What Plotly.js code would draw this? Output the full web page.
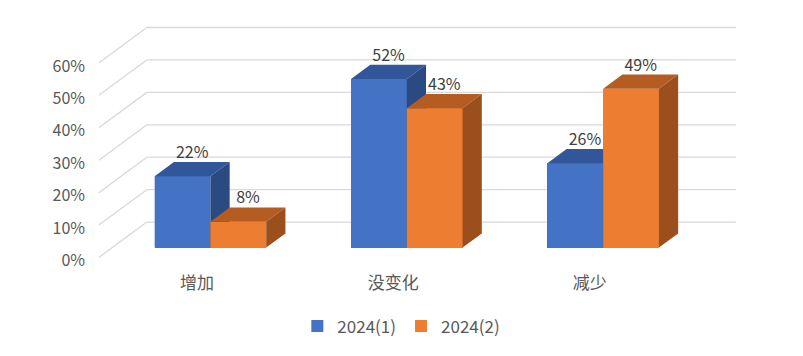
<!DOCTYPE html>
<html>
<head>
<meta charset="utf-8">
<script src="https://cdn.plot.ly/plotly-3.0.1.min.js"></script>
<style>html,body{margin:0;padding:0;background:#fff;}#chart{width:803px;height:356px;}</style>
</head>
<body>
<div id="chart"></div>
<script>
// ---- data ----
const categories = ['增加', '没变化', '减少'];
const seriesNames = ['2024(1)', '2024(2)'];
const series1 = [22, 52, 26];
const series2 = [8, 43, 49];
const yTicks = [0, 10, 20, 30, 40, 50, 60];
const yTickLabels = ['0%', '10%', '20%', '30%', '40%', '50%', '60%'];

// ---- styling / geometry (not data) ----
const FONT = '"Noto Sans CJK SC", "Noto Sans", sans-serif';
const DX = 48 / 196.2;     // depth shift along x (category units)
const DY = 35.5 / 3.25;    // depth shift along y (percent units)
const D0 = 0.28, D1 = 0.68; // bar front/back depth
const W = 0.284;            // bar width
const colors = [
  {front: '#4472C4', top: '#31569A', side: '#2B4A82'},
  {front: '#ED7D31', top: '#B45C22', side: '#9A4F1D'}
];
const offsets = [-W, 0];

function P(x, y, d) { return [x + d * DX, y + d * DY]; }

const traces = [];
const allSeries = [series1, series2];

// legend bars (front faces, repainted by polygons above)
allSeries.forEach((vals, s) => {
  traces.push({
    type: 'bar', name: seriesNames[s],
    x: categories.map((c, i) => i + D0 * DX),
    y: vals, base: vals.map(() => D0 * DY),
    width: W, offset: offsets[s],
    marker: {color: colors[s].front, line: {width: 0}},
    hoverinfo: 'skip', showlegend: true
  });
});

function faceTrace(pts, color) {
  return {type: 'scatter', mode: 'lines', x: pts.map(p => p ? p[0] : null), y: pts.map(p => p ? p[1] : null),
    fill: 'toself', fillcolor: color, line: {width: 0, color: color}, hoverinfo: 'skip', showlegend: false};
}

allSeries.forEach((vals, s) => {
  const front = [], top = [], side = [];
  vals.forEach((v, i) => {
    const L = i + offsets[s];
    front.push(P(L, 0, D0), P(L + W, 0, D0), P(L + W, v, D0), P(L, v, D0), P(L, 0, D0), null);
    top.push(P(L, v, D0), P(L + W, v, D0), P(L + W, v, D1), P(L, v, D1), P(L, v, D0), null);
    side.push(P(L + W, 0, D0), P(L + W, 0, D1), P(L + W, v, D1), P(L + W, v, D0), P(L + W, 0, D0), null);
  });
  traces.push(faceTrace(front, colors[s].front));
  traces.push(faceTrace(top, colors[s].top));
  traces.push(faceTrace(side, colors[s].side));
});

// data labels
allSeries.forEach((vals, s) => {
  traces.push({
    type: 'scatter', mode: 'text',
    x: vals.map((v, i) => i + offsets[s] + W / 2 + (D0 + D1) / 2 * DX),
    y: vals.map(v => v + D1 * DY),
    text: vals.map(v => v + '%'),
    textposition: 'top center',
    textfont: {family: FONT, size: 16, color: '#404040'},
    cliponaxis: false, hoverinfo: 'skip', showlegend: false
  });
});

// gridlines: side wall diagonals + back wall
const shapes = [];
const xLeft = -0.5, xRight = categories.length - 0.5;
yTicks.forEach(t => {
  const a = P(xLeft, t, 0), b = P(xLeft, t, 1), c = P(xRight, t, 1);
  const ln = {color: '#D9D9D9', width: 1.3};
  shapes.push({type: 'line', xref: 'x', yref: 'y', x0: a[0], y0: a[1], x1: b[0], y1: b[1], line: ln, layer: 'below'});
  shapes.push({type: 'line', xref: 'x', yref: 'y', x0: b[0], y0: b[1], x1: c[0], y1: c[1], line: ln, layer: 'below'});
});

const layout = {
  width: 803, height: 356,
  margin: {l: 89.2, r: 66.3, t: 24, b: 91.5, pad: 0},
  paper_bgcolor: '#ffffff', plot_bgcolor: '#ffffff',
  barmode: 'overlay', bargap: 0,
  showlegend: true,
  legend: {orientation: 'h', x: 0.482, xanchor: 'center', y: -0.26, yanchor: 'middle',
    font: {family: FONT, size: 17, color: '#595959'}, itemwidth: 30, traceorder: 'normal'},
  xaxis: {range: [-0.55, 2.75], showgrid: false, zeroline: false, showline: false,
    tickmode: 'array', tickvals: categories.map((c, i) => i), ticktext: categories,
    ticks: '', ticklabelstandoff: 7,
    tickfont: {family: FONT, size: 17, color: '#595959'}, fixedrange: true},
  yaxis: {range: [-2, 72], showgrid: false, zeroline: false, showline: false,
    tickmode: 'array', tickvals: yTicks, ticktext: yTickLabels,
    ticks: '', ticklabelstandoff: 3, ticklabelshift: 3,
    tickfont: {family: FONT, size: 16, color: '#595959'}, fixedrange: true},
  shapes: shapes,
  hovermode: false
};

Plotly.newPlot('chart', traces, layout, {displayModeBar: false, staticPlot: true});
</script>
</body>
</html>
